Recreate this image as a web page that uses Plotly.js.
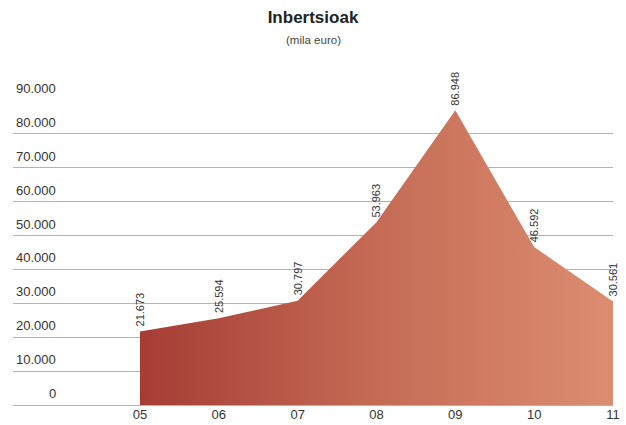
<!DOCTYPE html>
<html>
<head>
<meta charset="utf-8">
<script src="https://cdn.plot.ly/plotly-3.0.1.min.js"></script>
<style>html,body{margin:0;padding:0;background:#fff;}#chart{width:626px;height:425px;}</style>
</head>
<body>
<div id="chart"></div>
<script>
var years = ['05', '06', '07', '08', '09', '10', '11'];
var values = [21673, 25594, 30797, 53963, 86948, 46592, 30561];
var yTicks = [0, 10000, 20000, 30000, 40000, 50000, 60000, 70000, 80000, 90000];

function fmt(v) {
  var s = String(Math.round(v));
  return s.replace(/\B(?=(\d{3})+(?!\d))/g, '.');
}

var xIdx = years.map(function (_, i) { return i; });

var trace = {
  type: 'scatter',
  x: xIdx,
  y: values,
  mode: 'none',
  fill: 'tozeroy',
  fillgradient: {
    type: 'horizontal',
    colorscale: [[0, '#a53d34'], [0.5, '#c56b55'], [1, '#dc8d71']]
  },
  hoverinfo: 'skip'
};

var annotations = [];
values.forEach(function (v, i) {
  annotations.push({
    x: i, y: v, xref: 'x', yref: 'y',
    text: fmt(v), showarrow: false, textangle: -90,
    xanchor: 'center', yanchor: 'bottom', yshift: 3,
    font: {family: 'Liberation Sans, Arial, sans-serif', size: 11, color: '#333'}
  });
});
yTicks.forEach(function (t) {
  annotations.push({
    x: 45 / 600, y: t, xref: 'paper', yref: 'y',
    text: fmt(t), showarrow: false,
    xanchor: 'right', yanchor: 'bottom', yshift: 2,
    font: {family: 'Liberation Sans, Arial, sans-serif', size: 13, color: '#333'}
  });
});
annotations.push({
  xref: 'paper', yref: 'paper', x: 0.5, y: (405 - 40) / 305,
  xanchor: 'center', yanchor: 'middle',
  text: '(mila euro)', showarrow: false,
  font: {family: 'Liberation Sans, Arial, sans-serif', size: 11.5, color: '#444'}
});

var layout = {
  width: 626, height: 425,
  margin: {l: 13, r: 13, t: 100, b: 20},
  paper_bgcolor: '#fff', plot_bgcolor: '#fff',
  showlegend: false,
  title: {
    text: '<b>Inbertsioak</b>',
    x: 0.5, xanchor: 'center',
    y: 1 - 17 / 425, yanchor: 'middle', yref: 'container',
    font: {family: 'Liberation Sans, Arial, sans-serif', size: 17, color: '#222'}
  },
  xaxis: {
    range: [-1.61, 6],
    tickvals: xIdx, ticktext: years,
    showgrid: false, zeroline: false, showline: false,
    ticks: '', ticklabelstandoff: 0,
    tickfont: {family: 'Liberation Sans, Arial, sans-serif', size: 13, color: '#333'}
  },
  yaxis: {
    range: [0, 90000],
    tickvals: yTicks,
    showticklabels: false,
    showgrid: true, gridcolor: '#b3b3b3', gridwidth: 1,
    zeroline: true, zerolinecolor: '#b3b3b3', zerolinewidth: 1,
    showline: false, ticks: ''
  },
  annotations: annotations
};

Plotly.newPlot('chart', [trace], layout, {displayModeBar: false, staticPlot: true});
</script>
</body>
</html>
